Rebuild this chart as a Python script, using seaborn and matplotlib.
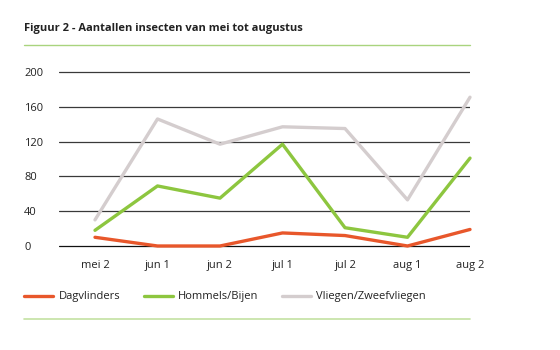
import pandas as pd
import seaborn as sns
import matplotlib.pyplot as plt
from matplotlib.lines import Line2D

periodes = ['mei 2', 'jun 1', 'jun 2', 'jul 1', 'jul 2', 'aug 1', 'aug 2']
dagvlinders = [10, 0, 0, 15, 12, 0, 19]
hommels_bijen = [18, 69, 55, 117, 21, 10, 101]
vliegen = [30, 146, 117, 137, 135, 53, 171]
yticks = [0, 40, 80, 120, 160, 200]

soorten = ['Dagvlinders', 'Hommels/Bijen', 'Vliegen/Zweefvliegen']
kleuren = ['#E8572B', '#8DC63F', '#D4CDCE']

df = pd.DataFrame({
    'periode': periodes * 3,
    'aantal': dagvlinders + hommels_bijen + vliegen,
    'soort': [s for s in soorten for _ in periodes],
})

sns.set_style('white')
plt.rcParams['font.family'] = ['Open Sans', 'DejaVu Sans']

fig = plt.figure(figsize=(5.6, 3.5), dpi=100)
ax = fig.add_axes([59 / 560, 0.2922, 411 / 560, 0.5071])

# eerst de rasterlijnen, dan de lijnen erover
for y in yticks:
    ax.axhline(y, color='#111111' if y == 0 else '#3a3a3a', lw=0.9, zorder=1)

sns.lineplot(data=df, x='periode', y='aantal', hue='soort', hue_order=soorten,
             palette=kleuren, linewidth=2.4, sort=False, ax=ax, zorder=3)

# grijze lijn achter de andere
for line, z in zip(ax.get_lines()[len(yticks):], [4, 3, 2]):
    line.set_zorder(z)
    line.set_clip_on(False)

ax.set_xlim(-0.576, 6.0)
ax.set_ylim(-2, 202)
ax.set_yticks(yticks)
ax.set_yticklabels([str(v) for v in yticks], ha='left')
ax.tick_params(axis='y', length=0, pad=25, labelsize=8, labelcolor='#222222')
ax.tick_params(axis='x', length=0, pad=9, labelsize=8, labelcolor='#222222')
ax.set_xlabel('')
ax.set_ylabel('')
sns.despine(ax=ax, left=True, bottom=True)

handles, labels = ax.get_legend_handles_labels()
ax.legend(handles, labels, ncol=3, loc='center left', frameon=False,
          bbox_to_anchor=(20 / 560, 1 - 297 / 350), bbox_transform=fig.transFigure,
          fontsize=8, handlelength=2.6, handletextpad=0.5, columnspacing=2.1,
          labelcolor='#222222', borderaxespad=0)
for h in ax.get_legend().get_lines():
    h.set_linewidth(2.4)

fig.text(24 / 560, 1 - 28 / 350, 'Figuur 2 - Aantallen insecten van mei tot augustus',
         fontsize=8, fontweight='bold', color='#222222', va='center', ha='left')

fig.add_artist(Line2D([24 / 560, 470 / 560], [1 - 45 / 350] * 2, color='#A9D47E', lw=1))
fig.add_artist(Line2D([24 / 560, 470 / 560], [1 - 319 / 350] * 2, color='#C3E2A2', lw=1.2))

fig.savefig('out.png', dpi=100)
